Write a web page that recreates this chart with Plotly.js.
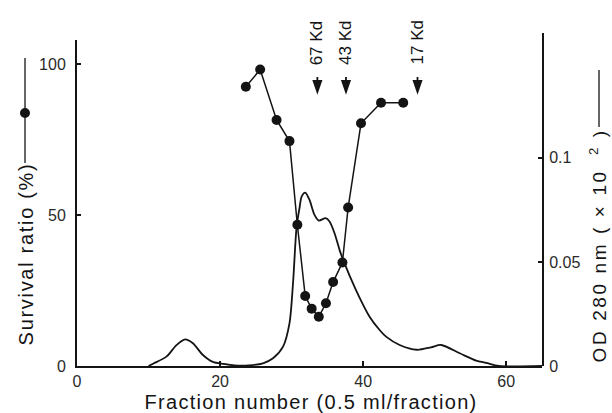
<!DOCTYPE html>
<html>
<head>
<meta charset="utf-8">
<script src="https://cdn.plot.ly/plotly-3.0.1.min.js"></script>
<style>
html,body{margin:0;padding:0;background:#fff;}
#chart{width:612px;height:413px;}
/* wide letter spacing of the original axis titles */
.annotation[data-index="0"] .annotation-text{letter-spacing:1.7px;}
.annotation[data-index="1"] .annotation-text{letter-spacing:2.6px;}
.annotation[data-index="2"] .annotation-text{letter-spacing:1.3px;}
</style>
</head>
<body>
<div id="chart"></div>
<script>
// Survival ratio (%) vs fraction number
const survivalFraction = [23.6, 25.6, 27.9, 29.7, 30.8, 31.9, 32.8, 33.8, 34.8, 35.8, 37.1, 37.9, 39.7, 42.5, 45.6];
const survivalRatio    = [92.5, 98.2, 81.5, 74.5, 46.8, 23.2, 19.0, 16.3, 20.8, 27.8, 34.3, 52.5, 80.4, 87.2, 87.2];

// OD 280 nm profile
const odFraction = [10.0, 10.7, 12.5, 13.9, 15.1, 16.2, 17.6, 19.0, 20.5, 22.0, 24.0, 26.0, 27.4, 28.8, 29.7, 30.2, 30.7, 31.1, 31.4, 31.9, 32.5, 33.2, 33.8, 34.75, 35.3, 36.0, 36.7, 37.2, 39.0, 40.9, 42.3, 43.2, 45.1, 47.5, 49.5, 50.9, 53.5, 55.8, 57.2, 59.0, 65.0];
const odValue    = [0.0, 0.0012, 0.0045, 0.0100, 0.0128, 0.0109, 0.0053, 0.0020, 0.0010, 0.0003, 0.0003, 0.0013, 0.0037, 0.0093, 0.0205, 0.040, 0.067, 0.0758, 0.0814, 0.0833, 0.0798, 0.0726, 0.0699, 0.0710, 0.0694, 0.0638, 0.0558, 0.0510, 0.0365, 0.0237, 0.0173, 0.0141, 0.0101, 0.0078, 0.0090, 0.0101, 0.0061, 0.0026, 0.0015, 0.0, 0.0];

// Molecular weight markers
const markerLabels = ['67 Kd', '43 Kd', '17 Kd'];
const markerFractions = [33.6, 37.6, 47.6];

// Axis ticks
const xTicks = [0, 20, 40, 60];
const leftTicks = [0, 50, 100];
const rightTicks = [0, 0.05, 0.1];
const rightTickText = ['0', '0.05', '0.1'];

const ink = '#141414';
const sans = 'Liberation Sans, Arial, sans-serif';
const tickFont = {family: sans, size: 16, color: '#2a2a2a'};

const traces = [
  {
    x: odFraction, y: odValue, xaxis: 'x', yaxis: 'y2',
    mode: 'lines', line: {color: ink, width: 1.8, shape: 'spline', smoothing: 0.8},
    hoverinfo: 'skip', showlegend: false
  },
  {
    x: survivalFraction, y: survivalRatio, xaxis: 'x', yaxis: 'y',
    mode: 'lines+markers', line: {color: ink, width: 1.5},
    marker: {color: ink, size: 10, symbol: 'circle'},
    showlegend: false
  }
];

const annotations = [
  {xref: 'paper', yref: 'paper', x: -0.1097, y: 0.336, text: 'Survival ratio (%)', textangle: -90,
   showarrow: false, xanchor: 'center', yanchor: 'middle', font: {family: sans, size: 20, color: ink}},
  {xref: 'paper', yref: 'paper', x: 1.1204, y: 0.363, text: 'OD 280 nm ( × 10 <sup> 2</sup> )', textangle: -90,
   showarrow: false, xanchor: 'center', yanchor: 'middle', font: {family: sans, size: 19, color: ink}},
  {xref: 'paper', yref: 'paper', x: 0.504, y: -0.108, text: 'Fraction number (0.5 ml/fraction)',
   showarrow: false, xanchor: 'center', yanchor: 'middle', font: {family: sans, size: 20, color: ink}}
];

const shapes = [
  {type: 'line', xref: 'paper', yref: 'paper', x0: -0.1118, x1: -0.1118, y0: 0.6096, y1: 0.925, line: {color: ink, width: 1.3}},
  {type: 'circle', xref: 'paper', yref: 'paper', x0: -0.1226, x1: -0.1011, y0: 0.7447, y1: 0.7748, fillcolor: ink, line: {color: ink, width: 0}},
  {type: 'line', xref: 'paper', yref: 'paper', x0: 1.1226, x1: 1.1226, y0: 0.7177, y1: 0.8889, line: {color: ink, width: 1.3}}
];

markerLabels.forEach(function (lab, i) {
  annotations.push({
    x: markerFractions[i], xref: 'x', y: 0.898, yref: 'paper',
    text: lab, textangle: -90, font: {family: sans, size: 17, color: ink},
    showarrow: false, xanchor: 'center', yanchor: 'bottom'
  });
  // downward arrow: stem + filled head, anchored at the marker fraction
  shapes.push({
    type: 'path', xref: 'x', yref: 'paper', xsizemode: 'pixel', ysizemode: 'pixel',
    xanchor: markerFractions[i], yanchor: 0.823,
    path: 'M0,15 L0,10 M-3.8,11 L3.8,11 L0,0 Z',
    fillcolor: ink, line: {color: ink, width: 1.8}
  });
});

const layout = {
  width: 612, height: 413,
  margin: {l: 77, r: 70, t: 33, b: 47, pad: 0},
  paper_bgcolor: '#fff', plot_bgcolor: 'rgba(0,0,0,0)',
  showlegend: false,
  xaxis: {
    range: [0, 65], anchor: 'y', showgrid: false, zeroline: false,
    showline: true, linecolor: ink, linewidth: 2,
    tickmode: 'array', tickvals: xTicks, ticks: 'inside', ticklen: 5, tickwidth: 1.5, tickcolor: ink,
    tickfont: tickFont, ticklabelstandoff: 0
  },
  yaxis: {
    range: [0, 108], domain: [0, 0.979], anchor: 'x', side: 'left', showgrid: false, zeroline: false,
    showline: true, linecolor: ink, linewidth: 2,
    tickmode: 'array', tickvals: leftTicks, ticks: 'inside', ticklen: 4, tickwidth: 1.5, tickcolor: ink,
    tickfont: tickFont, ticklabelstandoff: 6
  },
  yaxis2: {
    range: [0, 0.16], domain: [0, 1], anchor: 'x', side: 'right', showgrid: false, zeroline: false,
    showline: true, linecolor: ink, linewidth: 2,
    tickmode: 'array', tickvals: rightTicks, ticktext: rightTickText, ticks: 'inside', ticklen: 4, tickwidth: 1.5, tickcolor: ink,
    tickfont: tickFont, ticklabelstandoff: 2
  },
  annotations: annotations,
  shapes: shapes
};

Plotly.newPlot('chart', traces, layout, {staticPlot: true, displayModeBar: false});
</script>
</body>
</html>
